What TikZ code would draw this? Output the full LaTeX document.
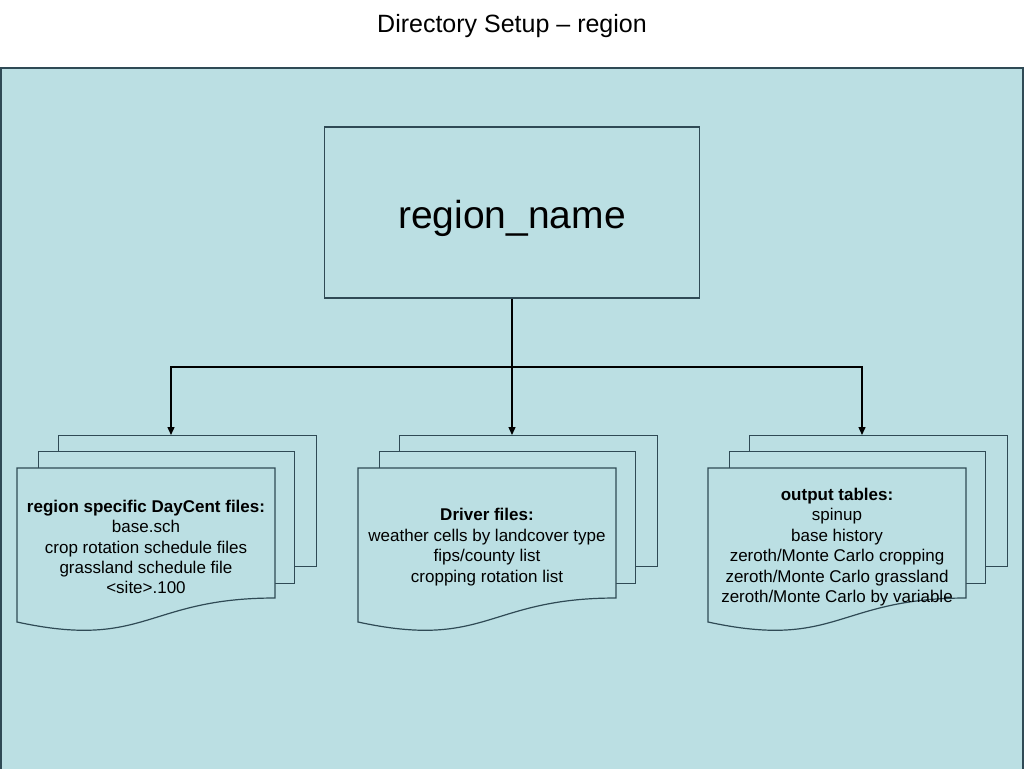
\documentclass[tikz,border=0pt]{standalone}
\usepackage{fontspec}
\setmainfont{Liberation Sans}
\usetikzlibrary{arrows.meta}
\definecolor{bgblue}{HTML}{BBDFE3}
\definecolor{edgecol}{HTML}{2F4A55}
\newcommand{\docgroup}[3]{%
  \node[sheet] (back#1) at (#2+41,435) {};
  \node[sheet, minimum width=256pt, minimum height=132pt] (mid#1) at (#2+21,451) {};
  \path[docedge] (#2,468) -- (#2+258,468) -- (#2+258,598)
     .. controls (#2+129,598) and (#2+129,650) .. (#2,622) -- cycle;
  \node[doctext] (text#1) at (#2+129,547) {#3};
}
\begin{document}
\begin{tikzpicture}[x=1pt,y=-1pt,
  docedge/.style={draw=edgecol, fill=bgblue, line width=1.2pt},
  sheet/.style={docedge, minimum width=258pt, minimum height=131pt, inner sep=0pt, anchor=north west},
  conn/.style={draw=black, line width=1.4pt},
  arr/.style={conn, -{Triangle[length=8pt,width=7pt]}},
  doctext/.style={align=center, font=\fontsize{17}{20.4}\selectfont, inner sep=0pt}]
\useasboundingbox (0,0) rectangle (1024,768);
\node[font=\fontsize{25}{30}\selectfont, inner sep=0pt] (title) at (512,26) {Directory Setup – region};
\path[docedge] (1,68) rectangle (1023,775);
\node[docedge, minimum width=375pt, minimum height=171pt, inner sep=0pt] (root) at (512,212.5) {};
\node[anchor=base, font=\fontsize{39}{46}\selectfont, inner sep=0pt] (rootlabel) at (512,228) {region\_name};
\coordinate (hub) at (512,367);
\docgroup{L}{17}{\textbf{region specific DayCent files:}\\ base.sch\\ crop rotation schedule files\\ grassland schedule file\\ <site>.100}
\docgroup{M}{358}{\textbf{Driver files:}\\ weather cells by landcover type\\ fips/county list\\ cropping rotation list}
\docgroup{R}{708}{\textbf{output tables:}\\ spinup\\ base history\\ zeroth/Monte Carlo cropping\\ zeroth/Monte Carlo grassland\\ zeroth/Monte Carlo by variable}
\draw[arr] (root.south) -- (hub) -- ([xshift=113pt]backM.north west);
\draw[arr] (hub) -| ([xshift=113pt]backL.north west);
\draw[arr] (hub) -| ([xshift=113pt]backR.north west);
\end{tikzpicture}
\end{document}
